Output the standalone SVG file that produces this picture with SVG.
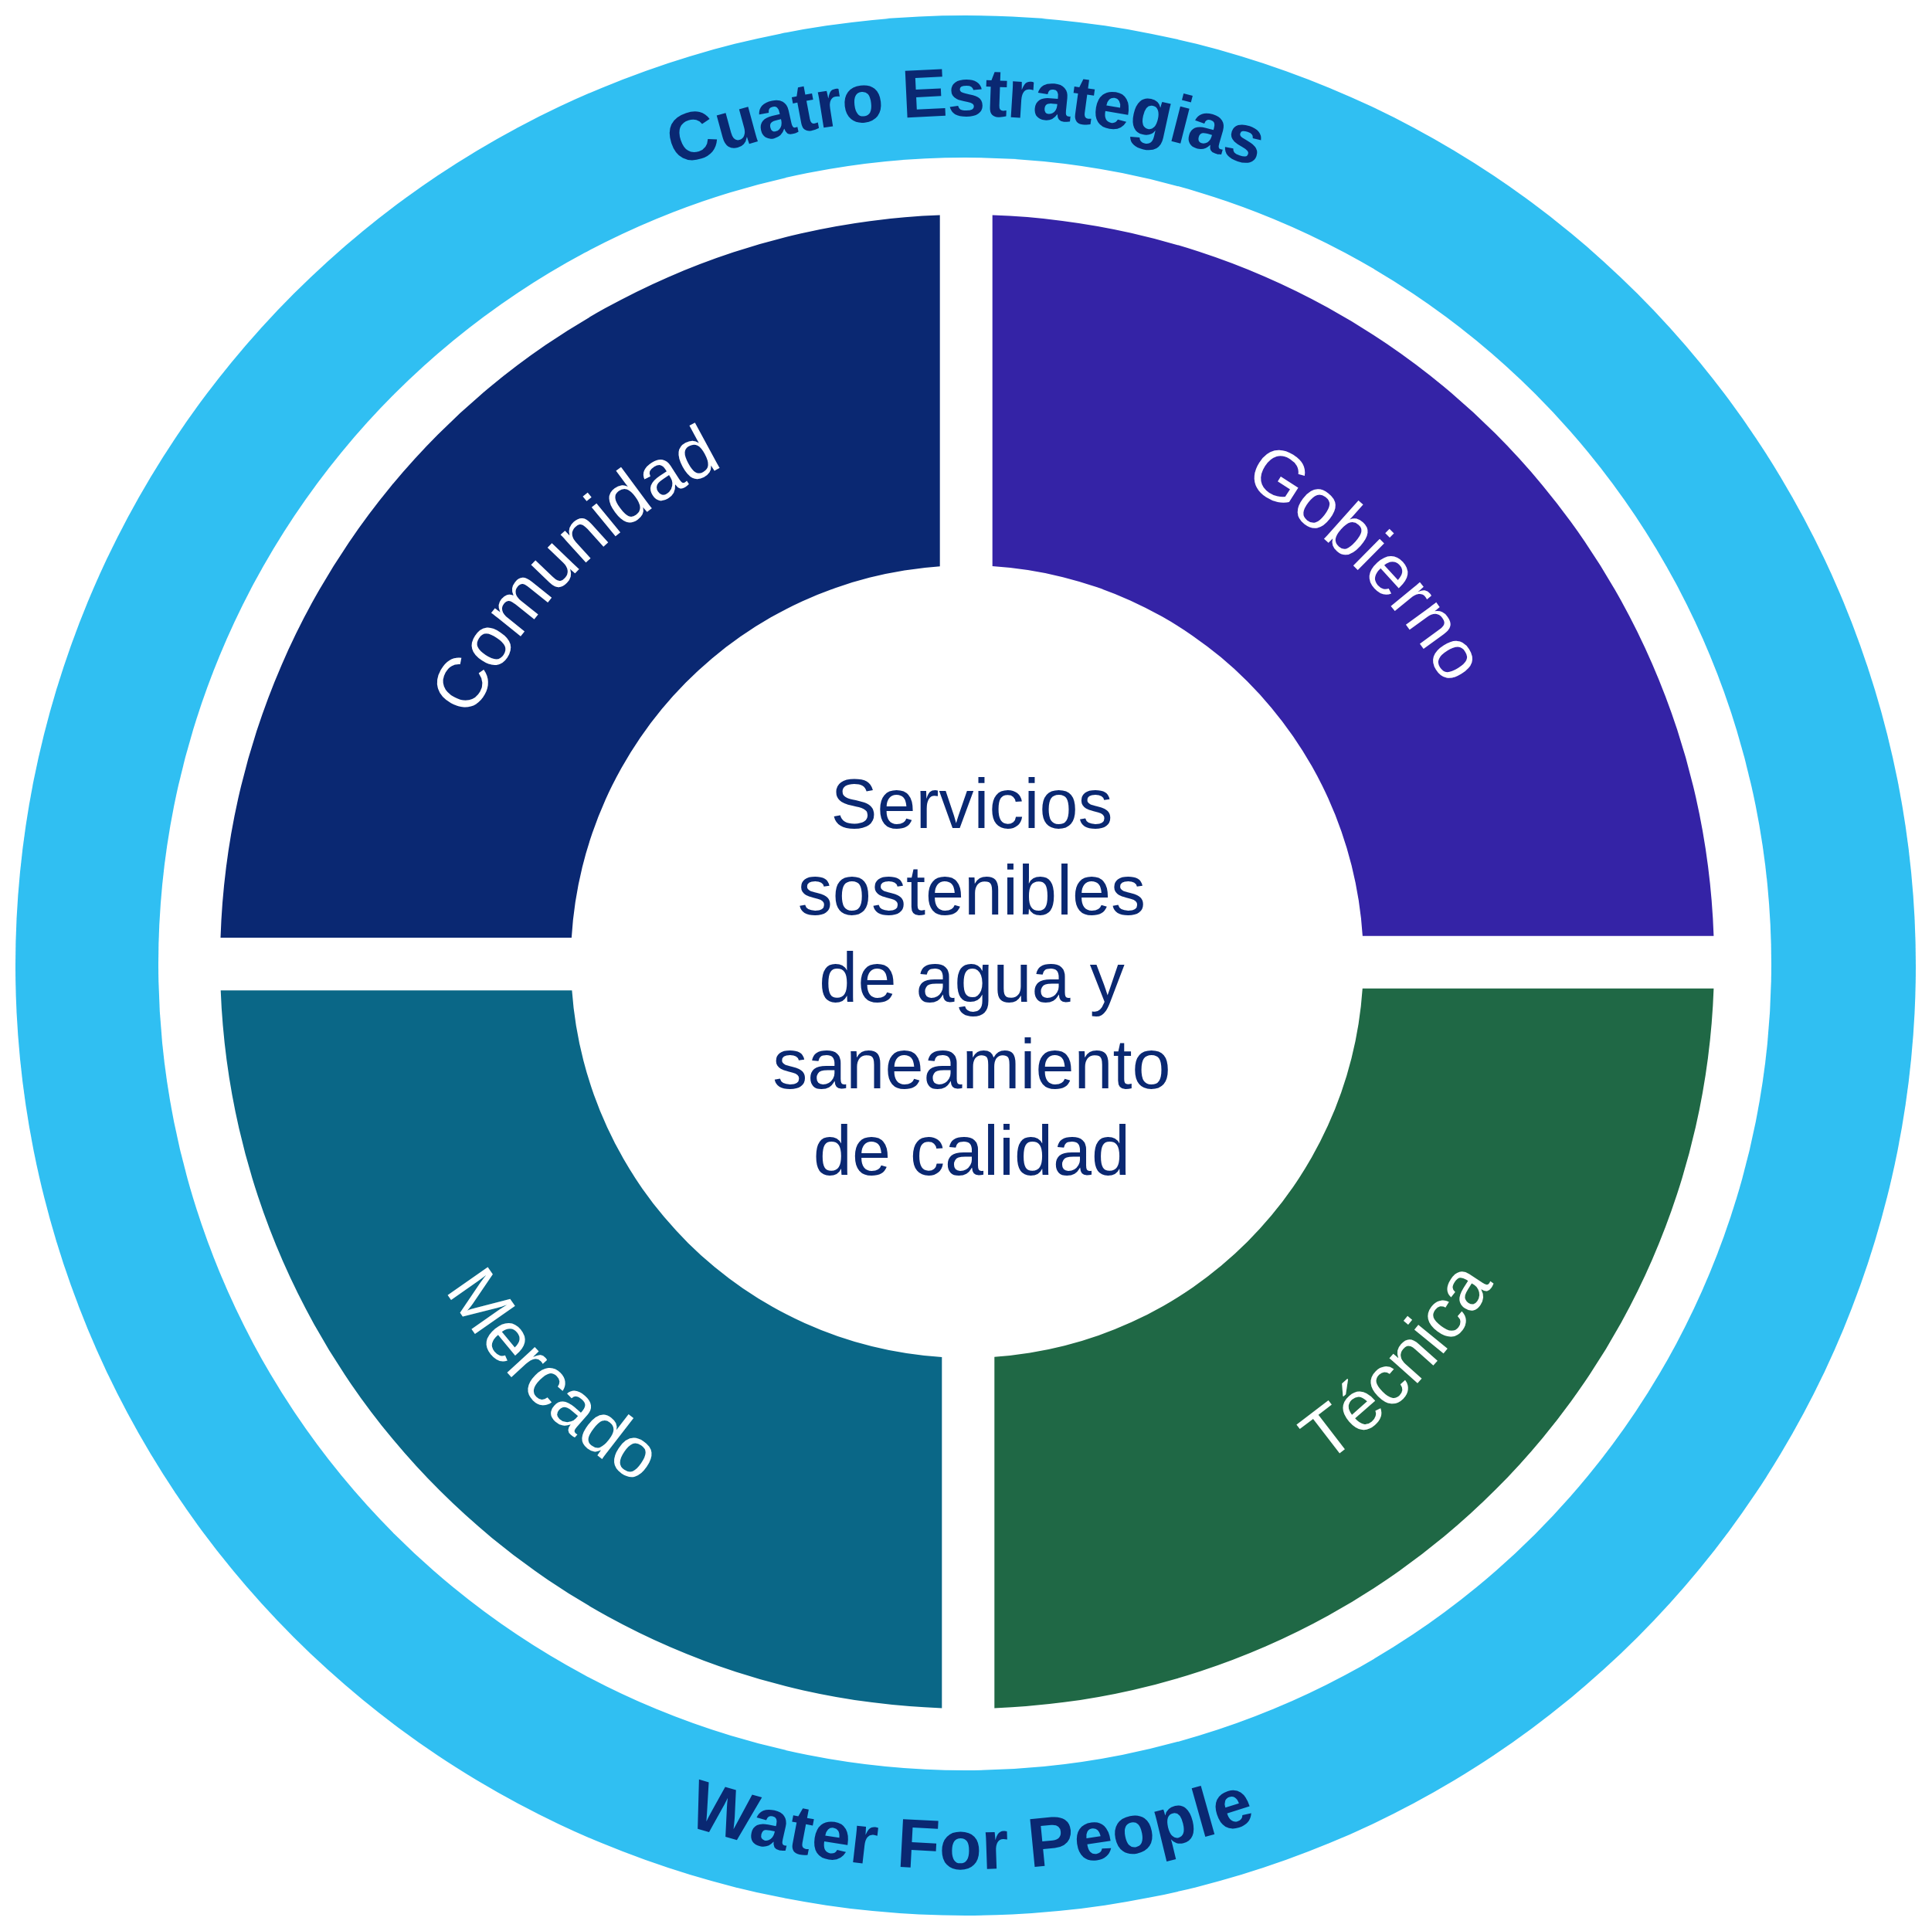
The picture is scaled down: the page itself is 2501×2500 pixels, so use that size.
<svg xmlns="http://www.w3.org/2000/svg" width="2501" height="2500" viewBox="0 0 2501 2500">
<style>
.ring{font-family:"Liberation Sans",Arial,sans-serif;font-weight:bold;font-size:88px;fill:#0A2872}
.qlab{font-family:"Liberation Sans",Arial,sans-serif;font-size:92px;fill:#FFFFFF}
.ctext{font-family:"Liberation Sans",Arial,sans-serif;font-size:90px;fill:#0A2872;text-anchor:middle}
</style>
<defs>
<path id="pTop" d="M150,1250 A1100,1100 0 0 1 2350,1250"/>
<path id="pBot" d="M80,1250 A1170,1170 0 0 0 2420,1250"/>
<path id="pCom" d="M740.1,1756.9 A724,724 0 0 1 1763.9,733.1"/>
<path id="pGob" d="M745.7,738.7 A716,716 0 0 1 1758.3,1751.3"/>
<path id="pMer" d="M683.5,676.5 A804,804 0 0 0 1820.5,1813.5"/>
<path id="pTec" d="M683.5,1813.5 A804,804 0 0 0 1820.5,676.5"/>
</defs>
<rect width="2501" height="2500" fill="#FFFFFF"/>
<g id="outer-ring">
<circle cx="1250" cy="1250" r="1230" fill="#30BFF2"/>
<circle cx="1249" cy="1248" r="1044" fill="#FFFFFF"/>
<text class="ring" letter-spacing="-1"><textPath href="#pTop" startOffset="50%" text-anchor="middle">Cuatro Estrategias</textPath></text>
<text class="ring" style="font-size:90px" letter-spacing="1"><textPath href="#pBot" startOffset="1846" text-anchor="middle">Water For People</textPath></text>
</g>
<g id="comunidad">
<path d="M1216.7,278.6 L1216.7,733.2 A513,513 0 0 0 739.9,1214 L285.5,1214 A967,967 0 0 1 1216.7,278.6 Z" fill="#0A2872"/>
<text class="qlab"><textPath href="#pCom" startOffset="50%" text-anchor="middle">Comunidad</textPath></text>
</g>
<g id="gobierno">
<path d="M1284.7,278.6 L1284.7,733 A513,513 0 0 1 1763.9,1211.7 L2218.4,1211.7 A967,967 0 0 0 1284.7,278.6 Z" fill="#3423A6"/>
<text class="qlab"><textPath href="#pGob" startOffset="50%" text-anchor="middle">Gobierno</textPath></text>
</g>
<g id="mercado">
<path d="M1219.3,2211.4 L1219.3,1757 A513,513 0 0 1 740.4,1282.3 L285.7,1282.3 A967,967 0 0 0 1219.3,2211.4 Z" fill="#0A6787"/>
<text class="qlab"><textPath href="#pMer" startOffset="50%" text-anchor="middle">Mercado</textPath></text>
</g>
<g id="tecnica">
<path d="M1287.3,2211.4 L1287.3,1756.8 A513,513 0 0 0 1763.8,1279.7 L2218.4,1279.7 A967,967 0 0 1 1287.3,2211.4 Z" fill="#1F6845"/>
<text class="qlab"><textPath href="#pTec" startOffset="1285" text-anchor="middle">Técnica</textPath></text>
</g>
<g id="center">
<text class="ctext" x="1258" y="1072">Servicios</text>
<text class="ctext" x="1258" y="1184">sostenibles</text>
<text class="ctext" x="1258" y="1297">de agua y</text>
<text class="ctext" x="1258" y="1409">saneamiento</text>
<text class="ctext" x="1258" y="1521">de calidad</text>
</g>
<g id="connectors"></g>
</svg>
